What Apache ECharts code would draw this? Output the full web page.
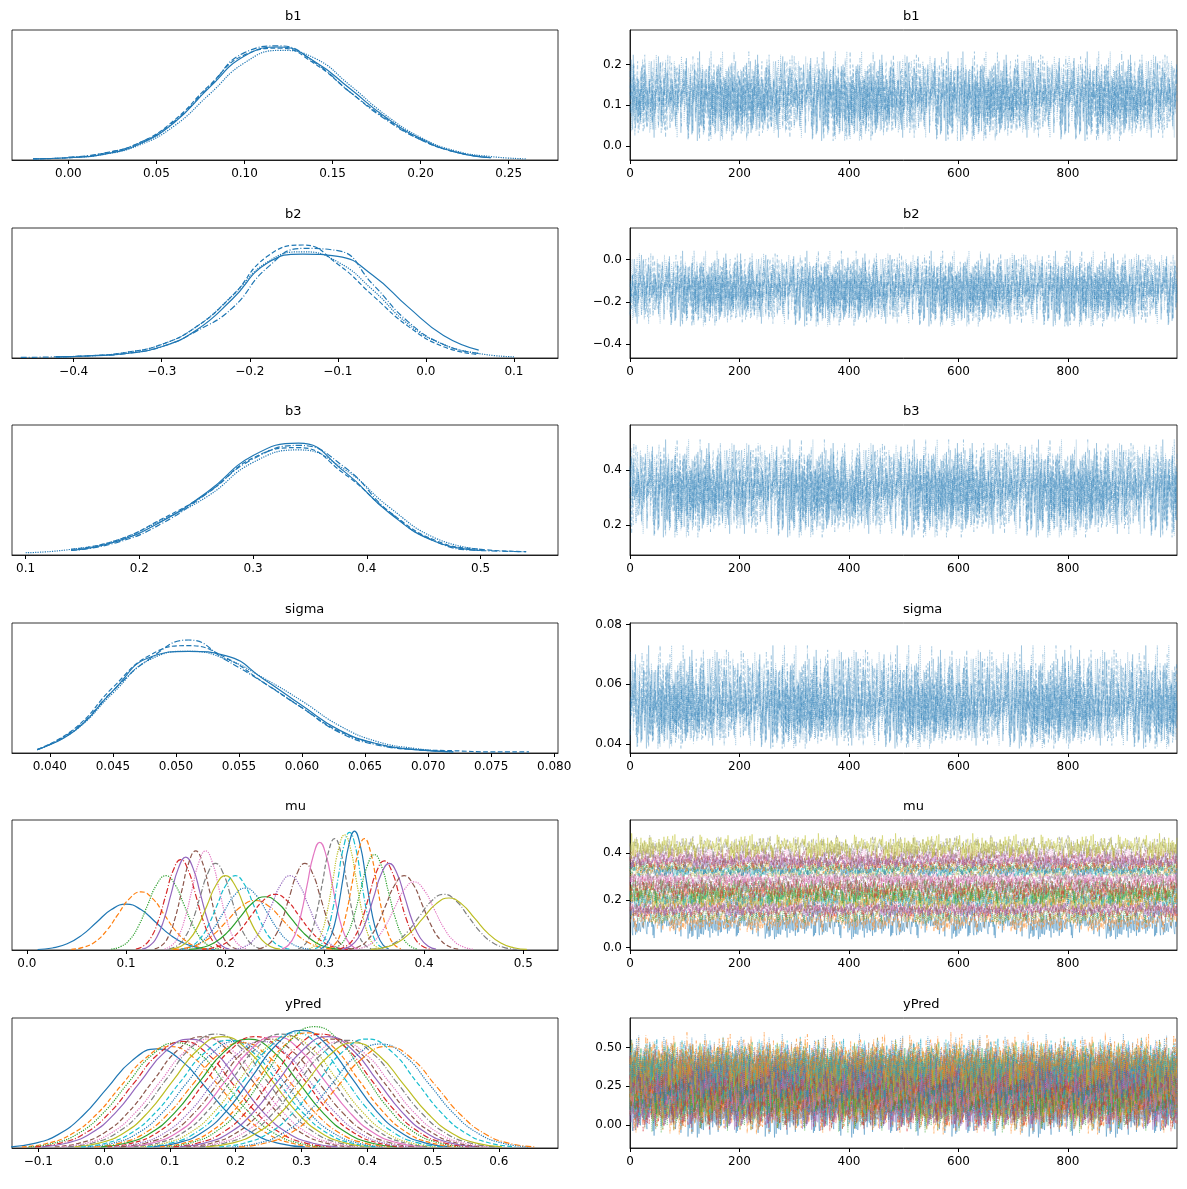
<!DOCTYPE html>
<html><head><meta charset="utf-8">
<script src="https://cdn.jsdelivr.net/npm/echarts@6/dist/echarts.min.js"></script>
<style>html,body{margin:0;background:#fff}#c{width:1187px;height:1189px}</style>
</head><body><div id="c"></div>
<script>
// colours
var C0='#1f77b4';
var tab10=['#1f77b4','#ff7f0e','#2ca02c','#d62728','#9467bd','#8c564b','#e377c2','#7f7f7f','#bcbd22','#17becf'];
var dashes=['solid','dashed','dotted',[6,2,1,2]];

// KDE of scalar params: x grid + one y array per chain
var b1X=[-0.02,0,0.02,0.04,0.06,0.08,0.10,0.12,0.14,0.16,0.18,0.20,0.22,0.24,0.26];
var b1K=[[0.01,0.02,0.05,0.14,0.33,0.64,0.92,1.0,0.87,0.63,0.38,0.19,0.07,0.02,null],
 [0.01,0.02,0.06,0.15,0.35,0.66,0.93,0.99,0.85,0.6,0.37,0.18,0.07,0.02,null],
 [0.01,0.02,0.05,0.13,0.3,0.58,0.86,0.97,0.9,0.66,0.4,0.2,0.08,0.03,0.01],
 [null,0.025,0.06,0.15,0.34,0.65,0.95,1.01,0.86,0.6,0.36,0.18,0.07,0.02,null]];
var b2X=[-0.46,-0.42,-0.38,-0.34,-0.30,-0.26,-0.22,-0.18,-0.14,-0.10,-0.06,-0.02,0.02,0.06,0.10];
var b2K=[[null,0.01,0.02,0.04,0.1,0.25,0.52,0.84,0.92,0.9,0.73,0.45,0.2,0.07,null],
 [null,0.01,0.02,0.05,0.12,0.28,0.55,0.9,1.0,0.83,0.55,0.28,0.1,0.03,null],
 [null,0.01,0.02,0.05,0.12,0.28,0.55,0.85,0.94,0.85,0.6,0.3,0.12,0.04,0.01],
 [0.005,0.01,0.02,0.04,0.1,0.24,0.44,0.8,0.97,0.95,0.65,0.32,0.12,0.04,null]];
var b3X=[0.10,0.14,0.18,0.22,0.26,0.30,0.34,0.38,0.42,0.46,0.50,0.54];
var b3K=[[null,0.04,0.12,0.3,0.56,0.88,0.99,0.74,0.37,0.12,0.04,null],
 [null,0.05,0.13,0.32,0.55,0.86,0.95,0.72,0.38,0.13,0.05,0.03],
 [0.02,0.05,0.13,0.31,0.52,0.82,0.93,0.76,0.42,0.15,0.05,null],
 [null,0.04,0.11,0.28,0.55,0.85,0.97,0.78,0.38,0.12,0.04,0.03]];
var sgX=[0.039,0.042,0.045,0.048,0.051,0.054,0.057,0.060,0.063,0.066,0.069,0.072,0.075,0.078];
var sgK=[[0.03,0.2,0.55,0.85,0.9,0.86,0.65,0.42,0.2,0.08,0.03,0.01,null,null],
 [0.03,0.22,0.58,0.87,0.95,0.84,0.62,0.4,0.19,0.08,0.03,0.02,0.01,0.01],
 [0.03,0.2,0.53,0.83,0.9,0.83,0.66,0.46,0.24,0.1,0.04,0.01,null,null],
 [0.03,0.21,0.55,0.84,1.0,0.82,0.62,0.4,0.18,0.07,0.03,0.01,null,null]];

// mu / yPred: peak centre, height of each variable's KDE
var muC=[0.10,0.115,0.14,0.155,0.16,0.17,0.18,0.19,0.20,0.21,0.22,0.23,0.24,0.25,0.265,0.28,0.295,0.31,0.32,0.325,0.33,0.34,0.35,0.36,0.365,0.38,0.39,0.42,0.425];
var muH=[0.37,0.47,0.6,0.73,0.75,0.8,0.8,0.7,0.6,0.6,0.5,0.4,0.43,0.45,0.6,0.7,0.87,0.9,0.93,0.95,0.96,0.9,0.77,0.72,0.7,0.6,0.55,0.45,0.42];
var yC=[0.08,0.10,0.11,0.12,0.13,0.15,0.16,0.17,0.18,0.19,0.20,0.21,0.22,0.23,0.24,0.25,0.26,0.27,0.28,0.29,0.30,0.31,0.32,0.33,0.34,0.35,0.36,0.37,0.38,0.40,0.42,0.43];
var yH=[0.8,0.82,0.85,0.86,0.88,0.9,0.88,0.92,0.9,0.87,0.86,0.85,0.88,0.9,0.86,0.88,0.9,0.92,0.9,0.93,0.95,0.93,0.98,0.92,0.9,0.88,0.86,0.87,0.85,0.88,0.84,0.82];
// shape of one KDE curve at -3..3 sd
var prof=[0.011,0.044,0.135,0.325,0.607,0.882,1,0.882,0.607,0.325,0.135,0.044,0.011];
// typed fluctuation pattern for traces (in sd units)
var noise=[0.3,-1.2,0.8,1.5,-0.4,-2.1,0.6,0.1,1.9,-0.7,-1.4,0.9,0.2,-0.3,2.3,-1.0,0.5,-1.8,1.1,0.0,
-0.6,1.4,-2.4,0.7,0.4,-0.9,1.7,-0.2,-1.5,0.9,2.0,-0.5,0.3,-1.1,1.2,-2.0,0.6,0.8,-0.4,1.6,
-1.3,0.1,2.6,-0.8,-0.2,1.0,-1.7,0.4,0.9,-0.6,1.3,-2.2,0.2,0.7,-1.0,1.8,-0.3,-1.6,0.5,1.1,
-0.1,-2.7,1.4,0.6,-0.7,0.2,1.9,-1.2,0.8,-0.4,-1.9,1.0,0.3,2.2,-0.9,-0.2,1.5,-1.4,0.1,0.7,
-0.5,1.2,-2.3,0.9,0.0,-1.1,1.7,0.4,-0.8,2.8,-0.3,-1.5,0.6,1.3,-2.0,0.2,0.9,-0.6,1.1,-1.3,
0.5,-0.1,2.1,-1.7,0.3,0.8,-0.9,1.6,-2.5,0.4,1.0,-0.4,-1.2,1.9,0.1,-0.7,1.4,-1.8,0.6,0.2,
-0.3,2.4,-1.0,0.7,-1.6,1.2,0.0,-2.1,0.9,0.5,-0.8,1.7,-0.2,-1.4,2.0,-0.6,0.3,1.1,-1.9,0.8,
-0.5,1.5,-2.6,0.4,1.0,-1.1,0.2,1.8,-0.7,-1.3,0.6,2.2,-0.4,-0.9,1.3,-1.5,0.1,0.7,-2.2,1.6,
0.3,-0.6,1.0,-1.7,2.5,-0.2,-1.0,0.9,0.4,-1.4,1.2,-0.3,-2.0,0.8,1.9,-0.8,0.2,-1.2,1.4,0.5,
-0.1,-1.8,1.1,0.6,-0.5,2.1,-1.6,0.3,-0.9,1.7,0.0,-2.3,0.7,1.3,-0.4,-1.1,1.5,-0.7,0.9,-1.5];
var traceParams=[[0.12,0.04],[-0.14,0.065],[0.33,0.065],[0.052,0.005]];

// layout
var tops=[30,228,425,623,820,1018], H=130;
var titles=['b1','b2','b3','sigma','mu','yPred'];
var kdeX=[[-0.032,0.278,[0,0.05,0.1,0.15,0.2,0.25],2],[-0.47,0.15,[-0.4,-0.3,-0.2,-0.1,0,0.1],1],
 [0.088,0.568,[0.1,0.2,0.3,0.4,0.5],1],[0.037,0.0803,[0.04,0.045,0.05,0.055,0.06,0.065,0.07,0.075,0.08],3],
 [-0.015,0.535,[0,0.1,0.2,0.3,0.4,0.5],1],[-0.14,0.69,[-0.1,0,0.1,0.2,0.3,0.4,0.5,0.6],1]];
var trY=[[-0.035,0.285,[0,0.1,0.2],1],[-0.465,0.15,[-0.4,-0.2,0],1],[0.09,0.565,[0.2,0.4],1],
 [0.037,0.0805,[0.04,0.06,0.08],2],[-0.01,0.54,[0,0.2,0.4],1],[-0.15,0.69,[0,0.25,0.5],2]];
function fmt(v,d){var s=v.toFixed(d);return s.charAt(0)=='-'?'\u2212'+s.slice(1):s;}

var grids=[],xAxes=[],yAxes=[],series=[],texts=[];
var axLine={show:true,onZero:false,lineStyle:{color:'#000',width:0.8}};
var lab={color:'#000',fontSize:12,fontFamily:'DejaVu Sans'};
for(var r=0;r<6;r++){
  for(var c=0;c<2;c++){
    var gi=grids.length;
    grids.push({left:c?630:12,width:c?547:546,top:tops[r],height:H,show:true,borderColor:'#000',borderWidth:0.8});
    texts.push({type:'text',left:(c?630+273:12+273),top:tops[r]-20,style:{text:titles[r],fill:'#000',font:'13px DejaVu Sans',textAlign:'center'}});
    if(c==0){
      var k=kdeX[r];
      xAxes.push({gridIndex:gi,type:'value',min:k[0],max:k[1],splitLine:{show:false},axisLine:axLine,
        axisTick:{show:true,inside:false,length:4,lineStyle:{color:'#000'},customValues:k[2]},
        axisLabel:Object.assign({customValues:k[2],formatter:(function(d){return function(v){return fmt(v,d);};})(k[3])},lab)});
      yAxes.push({gridIndex:gi,type:'value',min:0,max:r>=4?1.05:1.07,show:false});
    }else{
      var t=trY[r];
      xAxes.push({gridIndex:gi,type:'value',min:0,max:999,splitLine:{show:false},axisLine:axLine,
        axisTick:{length:4,lineStyle:{color:'#000'},customValues:[0,200,400,600,800]},
        axisLabel:Object.assign({customValues:[0,200,400,600,800]},lab)});
      yAxes.push({gridIndex:gi,type:'value',min:t[0],max:t[1],splitLine:{show:false},axisLine:axLine,
        axisTick:{length:4,lineStyle:{color:'#000'},customValues:t[2]},
        axisLabel:Object.assign({customValues:t[2],formatter:(function(d){return function(v){return fmt(v,d);};})(t[3])},lab)});
    }
  }
}
function line(gi,data,color,dash,op,w){
  series.push({type:'line',xAxisIndex:gi,yAxisIndex:gi,data:data,showSymbol:false,symbol:'none',smooth:true,
    silent:true,animation:false,lineStyle:{color:color,type:dash,width:w||1.2,opacity:op==null?1:op}});
}
// scalar KDEs
[[b1X,b1K],[b2X,b2K],[b3X,b3K],[sgX,sgK]].forEach(function(p,r){
  p[1].forEach(function(ys,ch){
    var d=[];ys.forEach(function(y,i){if(y!=null)d.push([p[0][i],y*0.93]);});
    line(r*2,d,C0,dashes[ch]);
  });
});
// scalar traces
traceParams.forEach(function(p,r){
  for(var ch=0;ch<4;ch++){
    var d=[];
    for(var i=0;i<1000;i++){
      var n=noise[(i*7+ch*53+r*17+Math.floor(i/200)*11)%200];
      if(r==3&&n>0)n*=1.5;
      d.push([i,p[0]+p[1]*n]);
    }
    series.push({type:'line',xAxisIndex:r*2+1,yAxisIndex:r*2+1,data:d,symbol:'none',silent:true,animation:false,
      lineStyle:{color:C0,width:1,type:dashes[ch],opacity:0.25}});
  }
});
// mu / yPred
function many(row,cs,hs,sdf,sdFix,trSd){
  cs.forEach(function(cx,j){
    var sd=sdFix||sdf/hs[j], col=tab10[j%10];
    var d=prof.map(function(v,i){return [cx+(i-6)*0.5*sd,v*hs[j]];});
    line(row*2,d,col,dashes[j%4]);
    var tr=[];
    for(var i=0;i<1000;i++)tr.push([i,cx+(trSd||sd)*0.8*noise[(i*7+j*31+Math.floor(i/200)*13)%200]]);
    series.push({type:'line',xAxisIndex:row*2+1,yAxisIndex:row*2+1,data:tr,symbol:'none',silent:true,animation:false,
      lineStyle:{color:col,width:1,opacity:0.4,type:dashes[j%4]}});
  });
}
many(4,muC,muH,0.011);
many(5,yC,yH,0,0.075);

var chart=echarts.init(document.getElementById('c'));
chart.setOption({backgroundColor:'#fff',animation:false,grid:grids,xAxis:xAxes,yAxis:yAxes,series:series,graphic:texts});
</script></body></html>
